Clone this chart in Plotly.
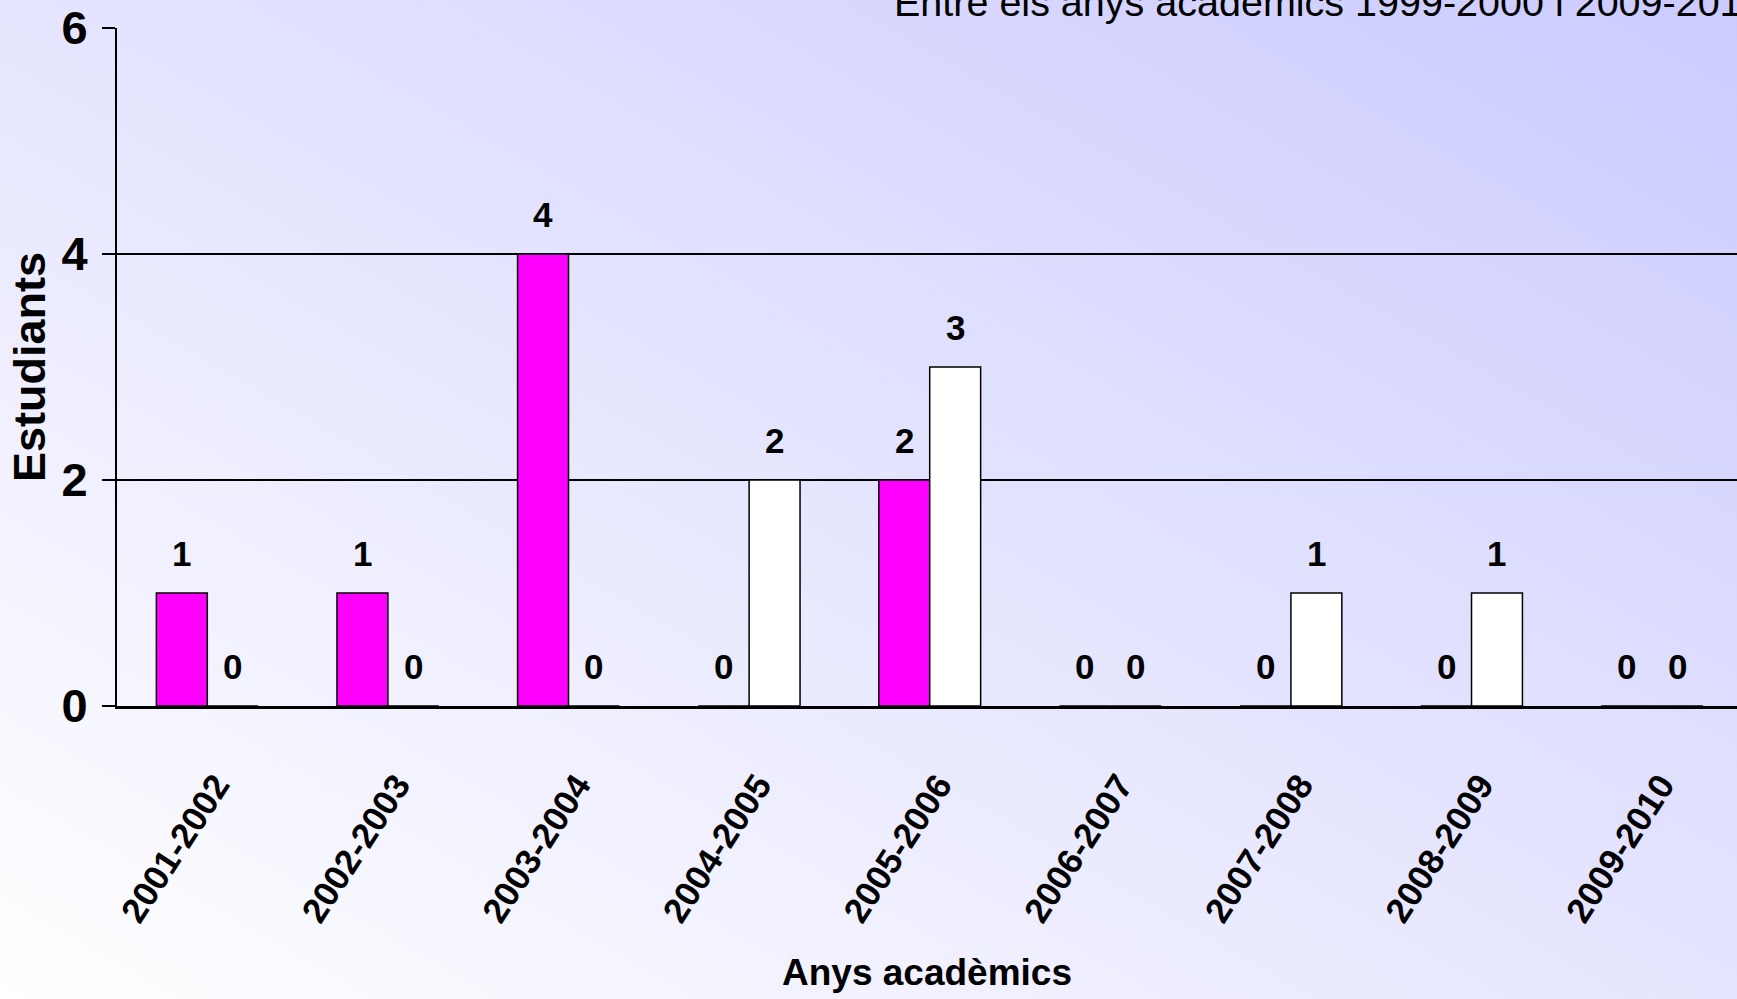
import base64
import plotly.graph_objects as go

# ---- data ----
categories = ["2001-2002", "2002-2003", "2003-2004", "2004-2005", "2005-2006",
              "2006-2007", "2007-2008", "2008-2009", "2009-2010"]
series_pink = [1, 1, 4, 0, 2, 0, 0, 0, 0]
series_white = [0, 0, 0, 2, 3, 0, 1, 1, 0]
y_ticks = [0, 2, 4, 6]
title_text = "Entre els anys acadèmics 1999-2000 i 2009-2010"
x_title = "Anys acadèmics"
y_title = "Estudiants"

# ---- style ----
SANS = "Liberation Sans, Arial, sans-serif"
BARGAP = 0.436
W, H = 1737, 999
ML, MR, MT, MB = 117, 0, 28, 293

svg = f'''<svg xmlns="http://www.w3.org/2000/svg" width="{W}" height="{H}" preserveAspectRatio="none">
<defs><linearGradient id="g" x1="0" y1="1" x2="1" y2="0">
<stop offset="0" stop-color="#FFFFFF"/><stop offset="1" stop-color="#CBCBFF"/>
</linearGradient></defs><rect width="{W}" height="{H}" fill="url(#g)"/></svg>'''
bg_src = "data:image/svg+xml;base64," + base64.b64encode(svg.encode()).decode()

fig = go.Figure()
fig.add_trace(go.Bar(x=categories, y=series_pink, marker=dict(color="#FF00FF", line=dict(color="black", width=1.5)),
                     name="a", showlegend=False))
fig.add_trace(go.Bar(x=categories, y=series_white, marker=dict(color="#FFFFFF", line=dict(color="black", width=1.5)),
                     name="b", showlegend=False))

off = (1 - BARGAP) / 4
annotations = []
for i, (a, b) in enumerate(zip(series_pink, series_white)):
    for dx, v in ((-off, a), (off, b)):
        annotations.append(dict(x=i + dx, y=v, xref="x", yref="y", text=str(v), showarrow=False,
                                yanchor="bottom", yshift=18,
                                font=dict(family=SANS, size=35, color="black", weight="bold")))

pw = W - ML - MR
ph = H - MT - MB
annotations.append(dict(xref="paper", yref="paper", x=(892 - ML) / pw, y=1 + (MT - 26) / ph,
                        xanchor="left", yanchor="bottom", text=title_text, showarrow=False,
                        font=dict(family=SANS, size=39.5, color="black")))

fig.update_layout(
    width=W, height=H,
    margin=dict(l=ML, r=MR, t=MT, b=MB, pad=0, autoexpand=False),
    barmode="group", bargap=BARGAP, bargroupgap=0,
    paper_bgcolor="#F0F0FF", plot_bgcolor="rgba(0,0,0,0)",
    images=[dict(source=bg_src, xref="paper", yref="paper", x=-ML / pw, y=1 + MT / ph,
                 sizex=W / pw, sizey=H / ph, sizing="stretch", layer="below", xanchor="left", yanchor="top")],
    annotations=annotations,
    xaxis=dict(range=[-0.5, 8.47], showline=True, linecolor="black", linewidth=2.5, showgrid=False,
               automargin=False, ticks="", tickangle=-57, ticklabelstandoff=42, ticklabelshift=9,
               tickfont=dict(family=SANS, size=35, color="black", weight="bold"),
               title=dict(text=x_title, standoff=32, font=dict(family=SANS, size=37, color="black", weight="bold"))),
    yaxis=dict(range=[0, 6], tickvals=y_ticks, showline=True, linecolor="black", linewidth=2,
               automargin=False,
               showgrid=True, gridcolor="black", gridwidth=1.8, zeroline=False,
               ticks="outside", ticklen=13, tickwidth=2, tickcolor="black", ticklabelstandoff=5,
               tickfont=dict(family=SANS, size=47, color="black", weight="bold"),
               title=dict(text=y_title, standoff=2, font=dict(family=SANS, size=45, color="black", weight="bold"))),
)

fig.write_html("out.html", config={"displayModeBar": False},
               post_script="document.body.style.margin='0px';document.body.style.overflow='hidden';")
